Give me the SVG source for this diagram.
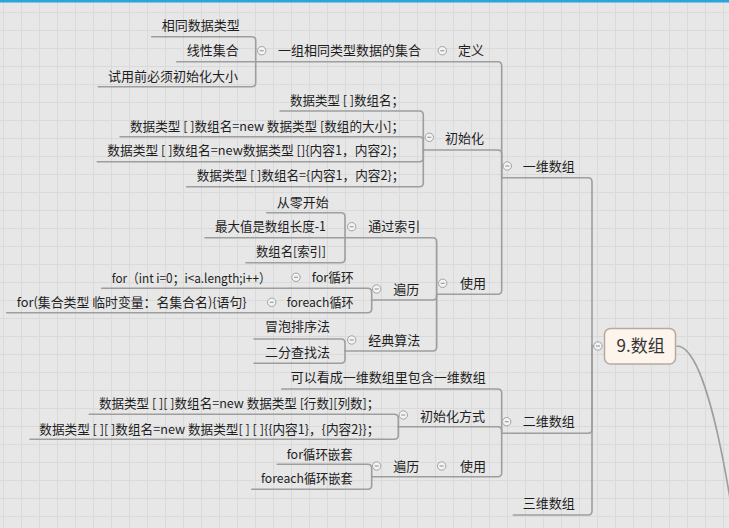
<svg xmlns="http://www.w3.org/2000/svg" width="729" height="528" viewBox="0 0 729 528">
<defs>
<pattern id="grid" x="3" y="12" width="18" height="18" patternUnits="userSpaceOnUse">
<path d="M0 0.5 H18 M0.5 0 V18" fill="none" stroke="#dadada" stroke-width="1"/>
</pattern>
<style>
.t{font-family:"Noto Sans CJK SC","Liberation Sans",sans-serif;font-size:13px;fill:#1e1e1e}
.c{font-family:"Noto Sans CJK SC","Liberation Sans",sans-serif;font-size:17px;fill:#333}
.ln{fill:none;stroke:#9e9e9e;stroke-width:1.6;stroke-linecap:round}
.cb circle{fill:#f3f3f3;stroke:#a2a2a2;stroke-width:1}
.cb path{stroke:#8ea2b8;stroke-width:1.2}
</style>
</defs>
<rect width="729" height="528" fill="#e7e7e7"/>
<rect width="729" height="528" fill="url(#grid)"/>
<rect width="729" height="2.5" fill="#2ba6dd"/>

<g id="connectors" class="ln">
<path d="M677 346 C700 346 720 430 735 530"/>
<path d="M592 346 H594"/>
<path d="M501.7 177.7 H588 Q592 177.7 592 181.7 V346"/>
<path d="M501.7 433.3 H588 Q592 433.3 592 429.3 V346"/>
<path d="M513.3 515 H588 Q592 515 592 511 V346"/>
<path d="M436 61.7 H497.7 Q501.7 61.7 501.7 65.7 V177.7"/>
<path d="M423.3 150 H497.7 Q501.7 150 501.7 154 V177.7"/>
<path d="M436.7 294.3 H497.7 Q501.7 294.3 501.7 290.3 V177.7"/>
<path d="M255.7 61.7 H436"/>
<path d="M151.7 36.7 H251.7 Q255.7 36.7 255.7 40.7 V61.7"/>
<path d="M176.7 61.7 H255.7"/>
<path d="M98.3 86.7 H251.7 Q255.7 86.7 255.7 82.7 V61.7"/>
<path d="M280 111 H419.3 Q423.3 111 423.3 115 V150"/>
<path d="M120 136.7 H419.3 Q423.3 136.7 423.3 140.7 V150"/>
<path d="M97.3 161.7 H419.3 Q423.3 161.7 423.3 157.7 V150"/>
<path d="M186.7 186.7 H419.3 Q423.3 186.7 423.3 182.7 V150"/>
<path d="M345 237.7 H432.7 Q436.7 237.7 436.7 241.7 V294.3"/>
<path d="M371.7 300 H432.7 Q436.7 300 436.7 296 V294.3"/>
<path d="M345 351 H432.7 Q436.7 351 436.7 347 V294.3"/>
<path d="M266.7 212.7 H341 Q345 212.7 345 216.7 V237.7"/>
<path d="M205 237.7 H345"/>
<path d="M246 262.7 H341 Q345 262.7 345 258.7 V237.7"/>
<path d="M290 288.3 H367.7 Q371.7 288.3 371.7 292.3 V300"/>
<path d="M265.7 312.7 H367.7 Q371.7 312.7 371.7 308.7 V300"/>
<path d="M101.7 288.3 H290"/>
<path d="M6.7 312.7 H265.7"/>
<path d="M254 339 H341 Q345 339 345 343 V351"/>
<path d="M254 363.3 H341 Q345 363.3 345 359.3 V351"/>
<path d="M281.7 389 H497.7 Q501.7 389 501.7 393 V433.3"/>
<path d="M398.3 426.7 H497.7 Q501.7 426.7 501.7 430.7 V433.3"/>
<path d="M435.7 476.7 H497.7 Q501.7 476.7 501.7 472.7 V433.3"/>
<path d="M89.3 414.3 H394.3 Q398.3 414.3 398.3 418.3 V426.7"/>
<path d="M30 439.3 H394.3 Q398.3 439.3 398.3 435.3 V426.7"/>
<path d="M371.7 476.7 H435.7"/>
<path d="M277.3 464.3 H367.7 Q371.7 464.3 371.7 468.3 V476.7"/>
<path d="M251.7 489.3 H367.7 Q371.7 489.3 371.7 485.3 V476.7"/>
</g>

<g id="n-root">
<rect x="604.5" y="328.5" width="71" height="35.5" rx="6" fill="#fdf4ec" stroke="#b4aaa0" stroke-width="1.5"/>
<text class="c" x="616.5" y="351.5">9.数组</text>
<g class="cb"><circle cx="598" cy="346" r="4.2"/><path d="M596 346 H600"/></g>
</g>

<g id="n-1d">
<text class="t" x="522.7" y="170.5">一维数组</text>
<g class="cb"><circle cx="507.3" cy="166" r="4.2"/><path d="M505.3 166 H509.3"/></g>
</g>
<g id="n-2d">
<text class="t" x="522.7" y="426.2">二维数组</text>
<g class="cb"><circle cx="506.7" cy="421.7" r="4.2"/><path d="M504.7 421.7 H508.7"/></g>
</g>
<g id="n-3d">
<text class="t" x="522.7" y="507.8">三维数组</text>
</g>

<g id="n-def">
<text class="t" x="458" y="55.2">定义</text>
<g class="cb"><circle cx="442.3" cy="50.7" r="4.2"/><path d="M440.3 50.7 H444.3"/></g>
</g>
<g id="n-set">
<text class="t" x="278" y="55.2">一组相同类型数据的集合</text>
<g class="cb"><circle cx="261.7" cy="50.7" r="4.2"/><path d="M259.7 50.7 H263.7"/></g>
</g>
<g id="n-same"><text class="t" x="161.7" y="29.5">相同数据类型</text></g>
<g id="n-linear"><text class="t" x="186.7" y="55.2">线性集合</text></g>
<g id="n-initsize"><text class="t" x="108" y="80.5">试用前必须初始化大小</text></g>

<g id="n-init">
<text class="t" x="445" y="142.5">初始化</text>
<g class="cb"><circle cx="429.3" cy="137.3" r="4.2"/><path d="M427.3 137.3 H431.3"/></g>
</g>
<g id="n-init1"><text class="t" x="290" y="104.5" textLength="114" lengthAdjust="spacingAndGlyphs">数据类型 [ ]数组名；</text></g>
<g id="n-init2"><text class="t" x="130" y="130.5" textLength="274" lengthAdjust="spacingAndGlyphs">数据类型 [ ]数组名=new 数据类型 [数组的大小]；</text></g>
<g id="n-init3"><text class="t" x="107.3" y="154.5" textLength="297" lengthAdjust="spacingAndGlyphs">数据类型 [ ]数组名=new数据类型 []{内容1，内容2}；</text></g>
<g id="n-init4"><text class="t" x="196.7" y="180.2" textLength="207.6" lengthAdjust="spacingAndGlyphs">数据类型 [ ]数组名={内容1，内容2}；</text></g>

<g id="n-use">
<text class="t" x="460" y="287.8">使用</text>
<g class="cb"><circle cx="442.7" cy="283.3" r="4.2"/><path d="M440.7 283.3 H444.7"/></g>
</g>
<g id="n-index">
<text class="t" x="368.3" y="231.2">通过索引</text>
<g class="cb"><circle cx="351.7" cy="226.7" r="4.2"/><path d="M349.7 226.7 H353.7"/></g>
</g>
<g id="n-zero"><text class="t" x="276.7" y="206.8">从零开始</text></g>
<g id="n-max"><text class="t" x="215" y="231.2" textLength="111" lengthAdjust="spacingAndGlyphs">最大值是数组长度-1</text></g>
<g id="n-name"><text class="t" x="256" y="256.2" textLength="70" lengthAdjust="spacingAndGlyphs">数组名[索引]</text></g>

<g id="n-iter">
<text class="t" x="393.3" y="293.5">遍历</text>
<g class="cb"><circle cx="376.7" cy="289" r="4.2"/><path d="M374.7 289 H378.7"/></g>
</g>
<g id="n-for">
<text class="t" x="311.7" y="281.8" textLength="42" lengthAdjust="spacingAndGlyphs">for循环</text>
<g class="cb"><circle cx="296" cy="277.3" r="4.2"/><path d="M294 277.3 H298"/></g>
</g>
<g id="n-forcode"><text class="t" x="111.7" y="282.8" textLength="159" lengthAdjust="spacingAndGlyphs">for（int i=0；i&lt;a.length;i++）</text></g>
<g id="n-foreach">
<text class="t" x="286.7" y="306.8" textLength="67" lengthAdjust="spacingAndGlyphs">foreach循环</text>
<g class="cb"><circle cx="271.7" cy="302.3" r="4.2"/><path d="M269.7 302.3 H273.7"/></g>
</g>
<g id="n-foreachcode"><text class="t" x="16.7" y="306.8" textLength="230" lengthAdjust="spacingAndGlyphs">for(集合类型  临时变量：名集合名){语句}</text></g>

<g id="n-algo">
<text class="t" x="368.3" y="345">经典算法</text>
<g class="cb"><circle cx="351.7" cy="340" r="4.2"/><path d="M349.7 340 H353.7"/></g>
</g>
<g id="n-bubble"><text class="t" x="265" y="331.2">冒泡排序法</text></g>
<g id="n-binary"><text class="t" x="265" y="356.8">二分查找法</text></g>

<g id="n-2dnote"><text class="t" x="290.7" y="381.8">可以看成一维数组里包含一维数组</text></g>
<g id="n-2dinit">
<text class="t" x="420" y="420.5">初始化方式</text>
<g class="cb"><circle cx="403.3" cy="415" r="4.2"/><path d="M401.3 415 H405.3"/></g>
</g>
<g id="n-2dinit1"><text class="t" x="99" y="407.8" textLength="280.3" lengthAdjust="spacingAndGlyphs">数据类型 [ ][ ]数组名=new 数据类型 [行数][列数]；</text></g>
<g id="n-2dinit2"><text class="t" x="39.3" y="433.5" textLength="340" lengthAdjust="spacingAndGlyphs">数据类型 [ ][ ]数组名=new 数据类型[ ] [ ]{{内容1}，{内容2}}；</text></g>
<g id="n-2duse">
<text class="t" x="460" y="470.5">使用</text>
<g class="cb"><circle cx="441.7" cy="466" r="4.2"/><path d="M439.7 466 H443.7"/></g>
</g>
<g id="n-2diter">
<text class="t" x="393.3" y="470.5">遍历</text>
<g class="cb"><circle cx="376.7" cy="466" r="4.2"/><path d="M374.7 466 H378.7"/></g>
</g>
<g id="n-fornest"><text class="t" x="286.7" y="458.5" textLength="66" lengthAdjust="spacingAndGlyphs">for循环嵌套</text></g>
<g id="n-foreachnest"><text class="t" x="261" y="482.8" textLength="91.7" lengthAdjust="spacingAndGlyphs">foreach循环嵌套</text></g>
</svg>
